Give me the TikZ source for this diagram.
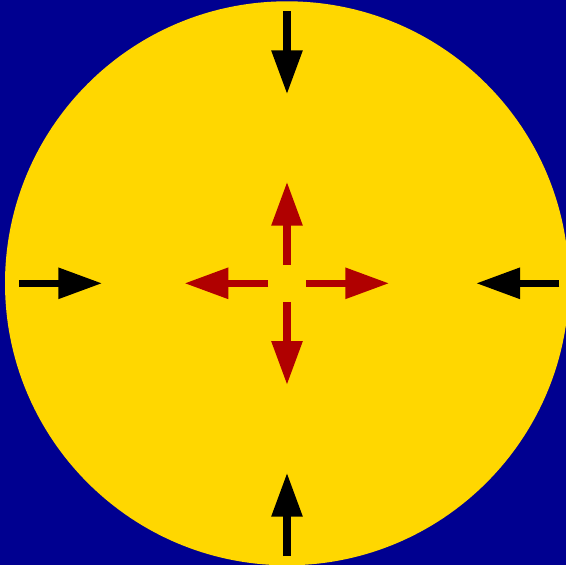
\documentclass[tikz,border=0pt]{standalone}
\usetikzlibrary{arrows.meta}
\definecolor{bgblue}{HTML}{000090}
\definecolor{disc}{HTML}{FFD700}
\definecolor{redarr}{HTML}{B00000}
\tikzset{
  bigarrow/.style={line width=7.4pt, line cap=butt, -{Triangle[length=44pt,width=29.5pt]}},
  inarrow/.style={bigarrow, draw=black},
  outarrow/.style={bigarrow, draw=redarr}
}
\begin{document}
\begin{tikzpicture}[x=1pt,y=-1pt]
\fill[bgblue] (0,0) rectangle (566,565);
\useasboundingbox (0,0) rectangle (566,565);
\fill[disc] (287,283.3) circle (282);
% outer black arrows
\coordinate (t0) at (287,11);    \coordinate (t1) at (287,94.3);
\coordinate (b0) at (287,556);   \coordinate (b1) at (287,472.7);
\coordinate (l0) at (19,283.3);  \coordinate (l1) at (102.3,283.3);
\coordinate (r0) at (559.3,283.3); \coordinate (r1) at (476,283.3);
\draw[inarrow] (t0) -- (t1);
\draw[inarrow] (b0) -- (b1);
\draw[inarrow] (l0) -- (l1);
\draw[inarrow] (r0) -- (r1);
% inner red arrows
\coordinate (u0) at (287,264.7); \coordinate (u1) at (287,181.7);
\coordinate (d0) at (287,302.3); \coordinate (d1) at (287,385);
\coordinate (w0) at (268,283.3); \coordinate (w1) at (184.3,283.3);
\coordinate (e0) at (306,283.3); \coordinate (e1) at (389.3,283.3);
\draw[outarrow] (u0) -- (u1);
\draw[outarrow] (d0) -- (d1);
\draw[outarrow] (w0) -- (w1);
\draw[outarrow] (e0) -- (e1);
\end{tikzpicture}
\end{document}
